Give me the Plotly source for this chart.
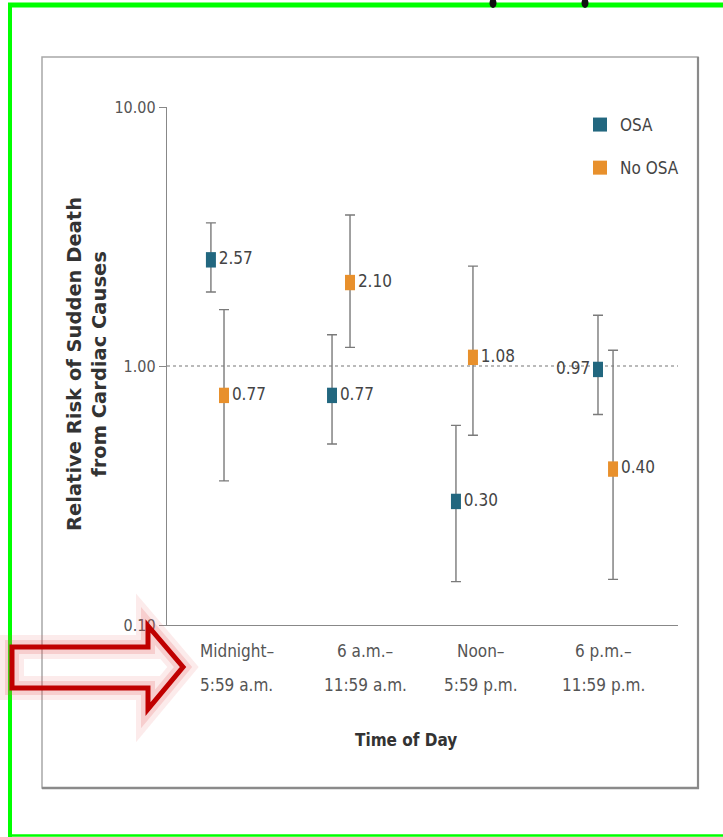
import plotly.graph_objects as go

# ---------------- data ----------------
categories_line1 = ["Midnight–", "6 a.m.–", "Noon–", "6 p.m.–"]
categories_line2 = ["5:59 a.m.", "11:59 a.m.", "5:59 p.m.", "11:59 p.m."]
category_pos = [0.0, 1.05, 1.995, 3.0]

osa_offset = [-0.213, -0.273, -0.205, -0.049]
noosa_offset = [-0.106, -0.126, -0.066, 0.074]

osa_rr = [2.57, 0.77, 0.30, 0.97]
osa_hi = [3.57, 1.32, 0.59, 1.57]
osa_lo = [1.93, 0.50, 0.147, 0.65]

noosa_rr = [0.77, 2.10, 1.08, 0.40]
noosa_hi = [1.65, 3.83, 2.43, 1.15]
noosa_lo = [0.36, 1.18, 0.54, 0.15]

osa_label_pos = ["middle right", "middle right", "middle right", "middle left"]
noosa_label_pos = ["middle right", "middle right", "middle right", "middle right"]

y_tickvals = [0.1, 1, 10]
y_ticktext = ["0.10", "1.00", "10.00"]

# ---------------- styling ----------------
W, H = 723, 837
L, R, T, B = 167, 678, 107, 625  # plot area in pixels
TEAL = "#22677f"
ORANGE = "#e8902c"
NARROW = "Liberation Sans Narrow, DejaVu Sans Condensed, Arial Narrow, sans-serif"
XMIN, XMAX = -0.572, 3.605


def px(x):
    return (x - L) / (R - L)


def py(y):
    return (B - y) / (B - T)


osa_x = [c + o for c, o in zip(category_pos, osa_offset)]
noosa_x = [c + o for c, o in zip(category_pos, noosa_offset)]

fig = go.Figure()

# reference line at RR = 1
fig.add_trace(go.Scatter(x=[XMIN, XMAX], y=[1, 1], mode="lines",
                         line=dict(color="#777", width=1.2, dash="3px,3px"),
                         showlegend=False, hoverinfo="skip"))

# error bars (drawn first so markers sit on top)
for xs, rr, hi, lo in [(osa_x, osa_rr, osa_hi, osa_lo), (noosa_x, noosa_rr, noosa_hi, noosa_lo)]:
    fig.add_trace(go.Scatter(
        x=xs, y=rr, mode="markers",
        marker=dict(size=1, color="rgba(0,0,0,0)"),
        error_y=dict(type="data", symmetric=False,
                     array=[h - r for h, r in zip(hi, rr)],
                     arrayminus=[r - l for r, l in zip(rr, lo)],
                     color="#7a7a7a", thickness=1.4, width=5),
        showlegend=False, hoverinfo="skip"))

for xs, rr, pos, name, col, grp in [(osa_x, osa_rr, osa_label_pos, "OSA", TEAL, "a"),
                                    (noosa_x, noosa_rr, noosa_label_pos, "No OSA", ORANGE, "b")]:
    fig.add_trace(go.Scatter(
        x=xs, y=rr, mode="markers+text", name=name,
        marker=dict(symbol="line-ns", size=11, color=col, line=dict(color=col, width=10)),
        text=[f"{v:.2f}" for v in rr], textposition=pos,
        textfont=dict(family=NARROW, size=17, color="#444"),
        legendgroup=grp, showlegend=False))
    # legend entry
    fig.add_trace(go.Scatter(
        x=[None], y=[None], mode="markers", name=name,
        marker=dict(symbol="square", size=14, color=col),
        legendgroup=grp, showlegend=True))

annotations = []
for c, l1, l2 in zip(category_pos, categories_line1, categories_line2):
    annotations.append(dict(x=c, y=py(651), xref="x", yref="paper", text=l1, showarrow=False,
                            font=dict(family=NARROW, size=17, color="#555"),
                            xanchor="center", yanchor="middle"))
    annotations.append(dict(x=c, y=py(685), xref="x", yref="paper", text=l2, showarrow=False,
                            font=dict(family=NARROW, size=17, color="#555"),
                            xanchor="center", yanchor="middle"))

annotations.append(dict(x=px(406), y=py(740), xref="paper", yref="paper", text="<b>Time of Day</b>",
                        showarrow=False, xanchor="center", yanchor="middle",
                        font=dict(family=NARROW, size=17, color="#333")))
annotations.append(dict(x=px(87), y=py(364), xref="paper", yref="paper",
                        text="<b>Relative Risk of Sudden Death<br>from Cardiac Causes</b>",
                        textangle=-90, showarrow=False, xanchor="center", yanchor="middle",
                        font=dict(family="DejaVu Sans, sans-serif", size=19.5, color="#333")))

shapes = []
# grey frame
shapes.append(dict(type="rect", xref="paper", yref="paper", x0=px(42), x1=px(698), y0=py(788), y1=py(57),
                   line=dict(color="#a8a8a8", width=1.5)))
shapes.append(dict(type="line", xref="paper", yref="paper", x0=px(42), x1=px(699), y0=py(788), y1=py(788),
                   line=dict(color="#8a8a8a", width=2.5)))
shapes.append(dict(type="line", xref="paper", yref="paper", x0=px(698), x1=px(698), y0=py(789), y1=py(57),
                   line=dict(color="#8a8a8a", width=2.2)))
# green screenshot border
shapes.append(dict(type="line", xref="paper", yref="paper", x0=px(10), x1=px(10), y0=py(837), y1=py(3),
                   line=dict(color="#00ff00", width=4)))
shapes.append(dict(type="line", xref="paper", yref="paper", x0=px(8), x1=px(725), y0=py(5), y1=py(5),
                   line=dict(color="#00ff00", width=5)))
shapes.append(dict(type="line", xref="paper", yref="paper", x0=px(8), x1=px(725), y0=py(835.5), y1=py(835.5),
                   line=dict(color="#00ff00", width=2.5)))
# small black marks at top
for cx in (493, 585):
    shapes.append(dict(type="circle", xref="paper", yref="paper", x0=px(cx - 3.5), x1=px(cx + 3.5),
                       y0=py(8), y1=py(-2), fillcolor="#111", line=dict(width=0)))

# red arrow
arrow_pts = [(12, 647), (148, 647), (148, 626), (183, 667), (148, 709), (148, 688), (12, 688)]
path = "M " + " L ".join(f"{px(a):.5f},{py(b):.5f}" for a, b in arrow_pts) + " Z"
shapes.append(dict(type="path", xref="paper", yref="paper", path=path,
                   line=dict(color="rgba(230,90,90,0.12)", width=24), layer="above"))
shapes.append(dict(type="path", xref="paper", yref="paper", path=path,
                   line=dict(color="rgba(230,90,90,0.2)", width=14), layer="above"))
shapes.append(dict(type="path", xref="paper", yref="paper", path=path,
                   line=dict(color="#c00000", width=5), layer="above"))

fig.update_layout(
    width=W, height=H,
    margin=dict(l=L, r=W - R, t=T, b=H - B, pad=0),
    paper_bgcolor="white", plot_bgcolor="white",
    showlegend=True,
    legend=dict(x=px(580), y=py(107), xanchor="left", yanchor="top",
                font=dict(family=NARROW, size=17, color="#444"),
                traceorder="grouped", tracegroupgap=18, bgcolor="rgba(0,0,0,0)",
                itemwidth=30),
    xaxis=dict(range=[XMIN, XMAX], showline=True, linecolor="#888", linewidth=1.3,
               showgrid=False, zeroline=False, showticklabels=False, ticks=""),
    yaxis=dict(type="log", range=[-1, 1], tickvals=y_tickvals, ticktext=y_ticktext,
               showline=True, linecolor="#888", linewidth=1.3, ticks="outside", ticklen=7,
               tickcolor="#888", showgrid=False, zeroline=False,
               tickfont=dict(family=NARROW, size=16, color="#555")),
    annotations=annotations, shapes=shapes,
)

fig.write_html("out.html", config={"displayModeBar": False},
               post_script="document.body.style.margin='0';document.body.style.overflow='hidden';")
